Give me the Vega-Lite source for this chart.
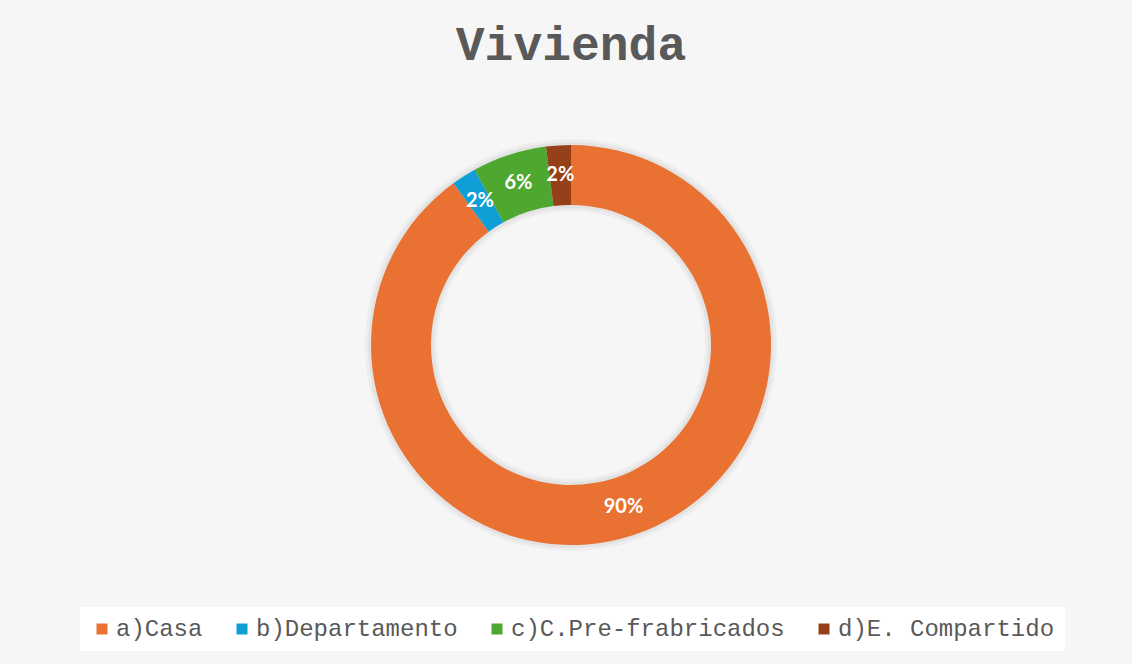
{
  "$schema": "https://vega.github.io/schema/vega-lite/v6.json",
  "width": 1122,
  "height": 550,
  "autosize": {"type": "none"},
  "padding": {"left": 10, "top": 70, "right": 0, "bottom": 44},
  "background": "#f6f6f6",
  "title": {
    "text": ["", "Vivienda"],
    "font": "Liberation Mono",
    "fontSize": 48,
    "fontWeight": "bold",
    "color": "#595959",
    "anchor": "middle",
    "orient": "top",
    "baseline": "top",
    "lineHeight": 40,
    "offset": 0
  },
  "data": {
    "values": [
      {"key": "a)Casa", "ord": 1, "pct": 0.90},
      {"key": "b)Departamento", "ord": 2, "pct": 0.02},
      {"key": "c)C.Pre-frabricados", "ord": 3, "pct": 0.06},
      {"key": "d)E. Compartido", "ord": 4, "pct": 0.02}
    ]
  },
  "encoding": {
    "theta": {"field": "pct", "type": "quantitative", "stack": true},
    "order": {"field": "ord", "type": "quantitative"}
  },
  "layer": [
    {
      "mark": {"type": "arc", "outerRadius": 206, "innerRadius": 134, "color": "#000000", "opacity": 0.035},
      "encoding": {}
    },
    {
      "mark": {"type": "arc", "outerRadius": 203, "innerRadius": 137, "color": "#000000", "opacity": 0.04},
      "encoding": {}
    },
    {
      "mark": {"type": "arc", "outerRadius": 200, "innerRadius": 140},
      "encoding": {
        "color": {
          "field": "key",
          "type": "nominal",
          "sort": ["a)Casa", "b)Departamento", "c)C.Pre-frabricados", "d)E. Compartido"],
          "scale": {
            "domain": ["a)Casa", "b)Departamento", "c)C.Pre-frabricados", "d)E. Compartido"],
            "range": ["#E97132", "#0F9ED5", "#4EA72E", "#96401A"]
          },
          "legend": {
            "title": null,
            "orient": "none",
            "direction": "horizontal",
            "legendX": 70,
            "legendY": 537,
            "symbolType": "square",
            "symbolSize": 121,
            "symbolStrokeWidth": 0,
            "labelFont": "Liberation Mono",
            "labelFontSize": 24,
            "labelColor": "#595959",
            "labelOffset": 2,
            "columnPadding": 27,
            "fillColor": "#ffffff",
            "padding": 10,
            "labelLimit": 400
          }
        }
      }
    },
    {
      "mark": {"type": "text", "radius": 170, "font": "Lato", "fontWeight": "bold", "fontSize": 20, "color": "#ffffff", "align": "center", "baseline": "middle"},
      "encoding": {
        "text": {"field": "pct", "type": "quantitative", "format": ".0%"}
      }
    }
  ],
  "config": {"view": {"stroke": null}}
}
